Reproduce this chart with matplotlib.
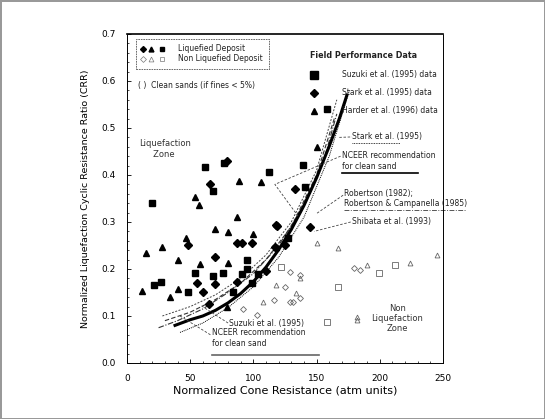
import matplotlib
matplotlib.use("Agg")
import matplotlib.pyplot as plt
from matplotlib.patches import Rectangle

# curves (qc1N, CRR)
nceer_q = [38, 50, 60, 70, 80, 90, 100, 110, 120, 130, 140, 150, 160, 168, 174]
nceer_crr = [0.08, 0.092, 0.10, 0.112, 0.128, 0.148, 0.173, 0.204, 0.241, 0.284, 0.335, 0.394, 0.461, 0.52, 0.57]
robertson_q = [25, 40, 60, 80, 100, 120, 140, 155, 166]
robertson_crr = [0.075, 0.09, 0.115, 0.15, 0.19, 0.25, 0.335, 0.425, 0.53]
shibata_q = [30, 50, 70, 90, 110, 130, 150, 164]
shibata_crr = [0.09, 0.108, 0.135, 0.17, 0.22, 0.29, 0.40, 0.52]
suzuki_q = [28, 50, 70, 90, 110, 130, 150, 166]
suzuki_crr = [0.10, 0.12, 0.145, 0.18, 0.23, 0.30, 0.41, 0.56]
stark_q = [42, 60, 80, 100, 120, 140, 160, 176]
stark_crr = [0.065, 0.085, 0.118, 0.162, 0.225, 0.31, 0.44, 0.58]

# liquefied (filled) data
liq_sq_q = [20, 62, 77, 68, 112, 95, 95, 91, 127, 21, 27, 48, 54, 68, 76, 99, 139, 141, 158, 84, 104]
liq_sq_crr = [0.34, 0.417, 0.425, 0.366, 0.406, 0.219, 0.20, 0.19, 0.266, 0.166, 0.172, 0.151, 0.191, 0.185,
              0.191, 0.170, 0.421, 0.375, 0.54, 0.15, 0.19]
liq_di_q = [79, 66, 48, 70, 87, 91, 99, 119, 133, 55, 70, 87, 60, 118, 145, 117, 65, 110, 125]
liq_di_crr = [0.43, 0.381, 0.251, 0.226, 0.255, 0.255, 0.255, 0.291, 0.37, 0.17, 0.168, 0.172, 0.151, 0.294,
              0.29, 0.247, 0.125, 0.195, 0.25]
liq_tr_q = [89, 106, 54, 57, 87, 70, 80, 47, 28, 15, 40, 118, 58, 80, 12, 34, 40, 79, 150, 100]
liq_tr_crr = [0.387, 0.385, 0.353, 0.336, 0.311, 0.285, 0.279, 0.266, 0.247, 0.234, 0.219, 0.247, 0.21, 0.213,
              0.153, 0.14, 0.157, 0.119, 0.46, 0.275]

# non liquefied (open) data
non_sq_q = [158, 212, 167, 199, 122]
non_sq_crr = [0.087, 0.209, 0.162, 0.191, 0.205]
non_tr_q = [167, 190, 137, 118, 108, 182, 224, 245, 134, 182, 150]
non_tr_crr = [0.245, 0.209, 0.181, 0.166, 0.13, 0.098, 0.213, 0.23, 0.149, 0.091, 0.255]
non_di_q = [180, 129, 116, 125, 137, 131, 103, 184, 137, 129, 92]
non_di_crr = [0.202, 0.194, 0.134, 0.162, 0.138, 0.13, 0.102, 0.198, 0.187, 0.13, 0.115]

fig = plt.figure(figsize=(5.45, 4.19), dpi=100)
fig.patch.set_edgecolor("#999999")
fig.patch.set_linewidth(1.0)
ax = fig.add_axes([0.233, 0.1337, 0.5798, 0.7852])

ax.plot(stark_q, stark_crr, color="k", lw=0.7, ls=(0, (1, 1)))
ax.plot(suzuki_q, suzuki_crr, color="#444444", lw=0.7, ls=(0, (2, 1.5)))
ax.plot(shibata_q, shibata_crr, color="#333333", lw=0.8, ls=(0, (4, 2)))
ax.plot(robertson_q, robertson_crr, color="#333333", lw=0.8, ls=(0, (5, 1.5, 1, 1.5)))
ax.plot(nceer_q, nceer_crr, color="k", lw=2.2)

ax.plot(liq_sq_q, liq_sq_crr, "s", color="k", ms=5)
ax.plot(liq_di_q, liq_di_crr, "D", color="k", ms=3.8)
ax.plot(liq_tr_q, liq_tr_crr, "^", color="k", ms=3.8)
ax.plot(non_sq_q, non_sq_crr, "s", mfc="none", mec="#666666", mew=0.6, ms=4)
ax.plot(non_tr_q, non_tr_crr, "^", mfc="none", mec="#666666", mew=0.6, ms=3.5)
ax.plot(non_di_q, non_di_crr, "D", mfc="none", mec="#666666", mew=0.6, ms=3)

ax.set_xlim(0, 250)
ax.set_ylim(0, 0.7)
ax.set_xticks([0, 50, 100, 150, 200, 250])
ax.set_yticks([0.0, 0.1, 0.2, 0.3, 0.4, 0.5, 0.6, 0.7])
ax.set_yticklabels(["0.0", "0.1", "0.2", "0.3", "0.4", "0.5", "0.6", "0.7"])
ax.set_xticks(range(0, 251, 10), minor=True)
ax.set_yticks([i * 0.02 for i in range(36)], minor=True)
ax.tick_params(labelsize=6.5, direction="in", length=3, width=0.6, pad=8)
ax.tick_params(which="minor", direction="in", length=1.5, width=0.5)
for s in ax.spines.values():
    s.set_linewidth(0.7)
    s.set_linestyle((0, (2, 1)))
ax.spines["top"].set_linewidth(1.2)
ax.spines["top"].set_linestyle("-")

ax.set_xlabel("Normalized Cone Resistance (atm units)", fontsize=8, labelpad=2)
ax.set_ylabel("Normalized Liquefaction Cyclic Resistance Ratio (CRR)", fontsize=6.8, labelpad=8)

tf = dict(fontsize=5.5, color="#222222")

# zone labels
ax.text(10, 0.455, "Liquefaction\n     Zone", fontsize=6, va="center", ha="left", color="#333333")
ax.text(214, 0.095, "Non\nLiquefaction\nZone", fontsize=6, va="center", ha="center", color="#333333",
        linespacing=1.1)

# left legend box
ax.add_patch(Rectangle((7, 0.625), 105, 0.065, fill=False, lw=0.6, ls=(0, (2, 1)), color="#555555"))
ax.plot([13], [0.669], ls="none", marker="D", color="k", ms=3)
ax.plot([19], [0.669], ls="none", marker="^", color="k", ms=3.5)
ax.plot([28], [0.669], ls="none", marker="s", color="k", ms=3.5)
ax.plot([13], [0.647], ls="none", marker="D", mfc="none", mec="#777777", ms=3, mew=0.5)
ax.plot([19], [0.647], ls="none", marker="^", mfc="none", mec="#777777", ms=3.5, mew=0.5)
ax.plot([28], [0.647], ls="none", marker="s", mfc="none", mec="#777777", ms=3.5, mew=0.5)
ax.text(40, 0.669, "Liquefied Deposit", va="center", **tf)
ax.text(40, 0.647, "Non Liquefied Deposit", va="center", **tf)
ax.text(9, 0.59, "( )  Clean sands (if fines < 5%)", va="center", **tf)

# field performance data legend
ax.text(145, 0.655, "Field Performance Data", va="center", fontsize=5.8, fontweight="bold", color="#222222")
ax.plot([148], [0.613], ls="none", marker="s", color="k", ms=6)
ax.plot([148], [0.575], ls="none", marker="D", color="k", ms=4.5)
ax.plot([148], [0.537], ls="none", marker="^", color="k", ms=4.5)
ax.text(170, 0.613, "Suzuki et al. (1995) data", va="center", ha="left", **tf)
ax.text(170, 0.575, "Stark et al. (1995) data", va="center", ha="left", **tf)
ax.text(170, 0.537, "Harder et al. (1996) data", va="center", ha="left", **tf)

# curve labels with dashed leaders
lead = dict(color="#444444", lw=0.6, ls=(0, (3, 2)), clip_on=False)
ax.text(178, 0.482, "Stark et al. (1995)", va="center", **tf)
ax.plot([168, 178], [0.48, 0.481], **lead)
ax.plot([178, 216], [0.467, 0.467], color="k", lw=0.6, ls=(0, (1, 1)), clip_on=False)

ax.text(170, 0.43, "NCEER recommendation\nfor clean sand", va="center", linespacing=1.2, **tf)
ax.plot([169, 117, 136], [0.44, 0.38, 0.31], **lead)
ax.plot([170, 230], [0.405, 0.405], color="k", lw=1.2, clip_on=False)

ax.text(172, 0.35, "Robertson (1982);\nRobertson & Campanella (1985)", va="center", linespacing=1.2,
        clip_on=False, **tf)
ax.plot([171, 150], [0.357, 0.318], **lead)
ax.plot([172, 268], [0.326, 0.326], color="#555555", lw=0.7, ls=(0, (5, 1.5, 1, 1.5)), clip_on=False)

ax.text(178, 0.30, "Shibata et al. (1993)", va="center", **tf)
ax.plot([177, 148], [0.30, 0.28], **lead)

ax.text(81, 0.083, "Suzuki et al. (1995)", va="center", **tf)
ax.plot([80, 58], [0.085, 0.123], **lead)
ax.text(67, 0.053, "NCEER recommendation\nfor clean sand", va="center", linespacing=1.2, **tf)
ax.plot([66, 42], [0.06, 0.10], **lead)
ax.plot([67, 152], [0.018, 0.018], color="#666666", lw=1.2)

fig.savefig("out.png", dpi=100)
